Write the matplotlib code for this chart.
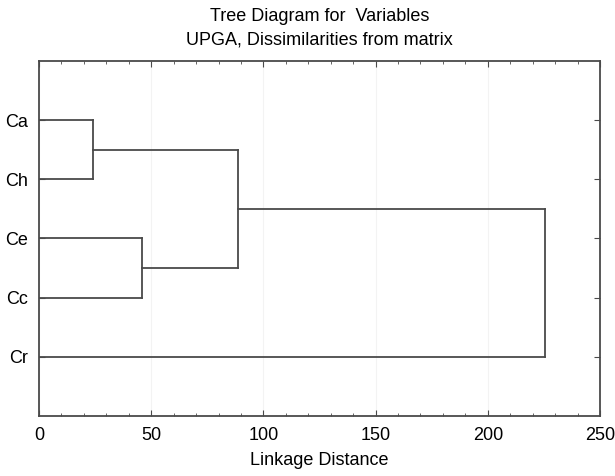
import matplotlib.pyplot as plt
from matplotlib.ticker import MultipleLocator

plt.rcParams['font.family'] = ['Liberation Sans', 'DejaVu Sans']

# Листа на дървото (отгоре надолу)
leaves = ['Ca', 'Ch', 'Ce', 'Cc', 'Cr']
# Сливания: (ляв клон, десен клон, разстояние)
merges = [
    ('Ca', 'Ch', 24.0),
    ('Ce', 'Cc', 46.0),
    ('Ca+Ch', 'Ce+Cc', 88.5),
    ('Ca+Ch+Ce+Cc', 'Cr', 225.5),
]
xticks = [0, 50, 100, 150, 200, 250]

line_color = '#4a4a4a'

fig = plt.figure(figsize=(6.15, 4.76), dpi=100)
ax = fig.add_axes([0.0634, 0.1261, 0.9122, 0.7457])

# позиции на листата: Ca най-горе
pos = {}
height = {}
for i, name in enumerate(leaves):
    pos[name] = len(leaves) - i
    height[name] = 0.0

for a, b, d in merges:
    ya, yb = pos[a], pos[b]
    ax.plot([height[a], d], [ya, ya], color=line_color, lw=1.3)
    ax.plot([height[b], d], [yb, yb], color=line_color, lw=1.3)
    ax.plot([d, d], [ya, yb], color=line_color, lw=1.3)
    new = a + '+' + b
    pos[new] = (ya + yb) / 2
    height[new] = d

ax.set_xlim(0, 250)
ax.set_ylim(0, len(leaves) + 1)
ax.set_xticks(xticks)
ax.xaxis.set_minor_locator(MultipleLocator(10))
ax.set_yticks([pos[n] for n in leaves])
ax.set_yticklabels(leaves)
ax.tick_params(axis='both', which='both', direction='in', top=True, right=True,
               colors=line_color, labelcolor='black', labelsize=13)
ax.tick_params(axis='both', which='major', length=4)
ax.tick_params(axis='x', which='major', pad=8)
ax.tick_params(axis='y', which='major', pad=8)
ax.tick_params(axis='both', which='minor', length=2)
ax.grid(axis='x', color='#f3f3f3', lw=0.8)
for s in ax.spines.values():
    s.set_color(line_color)
    s.set_linewidth(1.3)

ax.set_xlabel('Linkage Distance', fontsize=13, labelpad=6)
ax.set_title('Tree Diagram for  Variables\nUPGA, Dissimilarities from matrix', fontsize=13,
             linespacing=1.5, pad=12)

fig.savefig('out.png', dpi=100)
